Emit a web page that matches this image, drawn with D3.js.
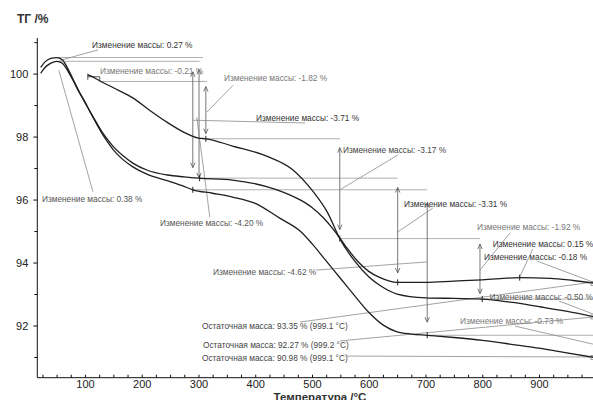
<!DOCTYPE html>
<html><head><meta charset="utf-8">
<script src="https://cdn.jsdelivr.net/npm/d3@7"></script>
<style>
html,body{margin:0;padding:0;background:#fff;}
svg{display:block;font-family:"Liberation Sans",Arial,sans-serif;}
</style></head><body>
<svg id="chart" width="593" height="400"></svg>
<script>
// --- TG curves: temperature (°C) and mass (%) ---
const tempA = [105, 110, 125, 150, 185, 215, 245, 273, 300, 313, 360, 420, 466, 500, 527, 549, 575, 600, 620, 650, 700, 750, 800, 850, 900, 950, 999];
const massA = [99.96, 99.93, 99.78, 99.55, 99.22, 98.82, 98.45, 98.15, 97.95, 97.93, 97.7, 97.38, 96.95, 96.3, 95.6, 94.76, 94.05, 93.55, 93.27, 93.0, 92.88, 92.86, 92.84, 92.74, 92.6, 92.45, 92.27];

const tempB = [22, 30, 40, 50, 60, 70, 80, 90, 100, 110, 120, 130, 140, 150, 165, 185, 210, 245, 275, 300, 360, 420, 450, 480, 500, 520, 540, 560, 580, 600, 620, 650, 700, 750, 800, 866, 920, 960, 999];
const massB = [100.01, 100.2, 100.33, 100.39, 100.33, 100.08, 99.75, 99.4, 99.08, 98.76, 98.45, 98.15, 97.9, 97.68, 97.42, 97.15, 96.93, 96.78, 96.72, 96.68, 96.62, 96.41, 96.23, 95.98, 95.75, 95.42, 95.0, 94.5, 94.05, 93.72, 93.52, 93.37, 93.37, 93.41, 93.45, 93.52, 93.5, 93.43, 93.34];

const tempC = [22, 30, 40, 50, 60, 70, 80, 90, 100, 110, 120, 130, 140, 150, 165, 185, 210, 245, 270, 290, 325, 360, 400, 443, 479, 500, 525, 550, 575, 600, 625, 650, 675, 703, 750, 800, 861, 900, 949, 999];
const massC = [100.2, 100.38, 100.48, 100.51, 100.44, 100.15, 99.78, 99.42, 99.1, 98.75, 98.42, 98.1, 97.82, 97.58, 97.3, 97.03, 96.8, 96.6, 96.45, 96.31, 96.2, 96.08, 95.88, 95.41, 95.0, 94.6, 94.05, 93.5, 92.95, 92.42, 92.02, 91.8, 91.73, 91.69, 91.62, 91.53, 91.38, 91.28, 91.13, 90.98];

// evaluation points marked on the curves
const markTemp = [313, 549, 800, 302, 651, 866, 290, 703];
const markMass = [97.93, 94.76, 92.84, 96.68, 93.37, 93.52, 96.31, 91.69];

// mass-change steps drawn as double arrows
const stepTemp   = [313, 290, 301, 549, 651, 703, 796];
const stepFrom   = [99.75, 100.39, 100.51, 97.93, 96.68, 96.31, 94.76];
const stepChange = [-1.82, -3.71, -4.20, -3.17, -3.31, -4.62, -1.92];

// mass changes shown only as labels
const smallChange = [0.27, -0.21, 0.38, 0.15, -0.18, -0.50, -0.73];

// residual masses at the end of the runs
const residMass = [93.35, 92.27, 90.98];
const residTemp = [999.1, 999.2, 999.1];

// reference levels (mass %) and their temperature span
const levelMass  = [100.51, 100.39, 99.75, 97.93, 96.68, 96.31, 94.76, 91.69, 92.84];
const levelStart = [51, 51, 126, 313, 302, 290, 549, 703, 796];
const levelEnd   = [308, 302, 315, 549, 651, 703, 796, 1000, 1000];

// axis ticks
const yMajor = [92, 94, 96, 98, 100];
const yMinor = [91, 93, 95, 97, 99, 101];
const xMajor = [100, 200, 300, 400, 500, 600, 700, 800, 900];
const xMinor = d3.range(25, 1001, 25);

const svg = d3.select("#chart");
const x = d3.scaleLinear().domain([16, 1000]).range([37.3, 595.75]);
const y = d3.scaleLinear().domain([90.343, 101.13]).range([377.7, 38]);

const fmt = v => (v < 0 ? "-" : "") + Math.abs(v).toFixed(2);
const chgText = v => "Изменение массы: " + fmt(v) + " %";

// ---- axes ----
const gy = svg.append("g").attr("transform", `translate(${x(16)},0)`);
gy.call(d3.axisLeft(y).tickValues(yMajor).tickSize(4).tickSizeOuter(0).tickPadding(5).tickFormat(d3.format("d")));
gy.append("g").call(d3.axisLeft(y).tickValues(yMinor).tickSize(3).tickSizeOuter(0).tickFormat(""))
  .select(".domain").remove();
gy.select(".domain").attr("d", `M0,${y(101.13)}V${y(90.343)}`);

const gx = svg.append("g").attr("transform", `translate(0,${y(90.343)})`);
gx.call(d3.axisBottom(x).tickValues(xMajor).tickSize(0).tickSizeOuter(0).tickPadding(2));
gx.append("g").call(d3.axisTop(x).tickValues(xMinor).tickSize(3).tickSizeOuter(0).tickFormat(""))
  .select(".domain").remove();
gx.select(".domain").attr("d", `M${x(16)},0H593`);

svg.selectAll(".tick text").attr("font-size", 11).attr("fill", "#222")
  .attr("font-family", "'Liberation Sans', Arial, sans-serif");
svg.selectAll(".domain, .tick line").attr("stroke", "#111").attr("stroke-width", 1);

svg.append("text").attr("x", 17).attr("y", 23).attr("font-size", 12).attr("font-weight", "bold")
  .attr("fill", "#333").text("ТГ /%");
svg.append("text").attr("x", 320).attr("y", 400.5).attr("text-anchor", "middle").attr("font-size", 11.5)
  .attr("font-weight", "bold").attr("fill", "#333").text("Температура /°C");

// ---- reference levels ----
const gLev = svg.append("g").attr("stroke", "#9a9a9a").attr("stroke-width", 0.8);
levelMass.forEach((m, i) => {
  gLev.append("line").attr("x1", x(levelStart[i])).attr("x2", x(levelEnd[i]))
    .attr("y1", y(m)).attr("y2", y(m));
});

// ---- step arrows ----
const gArr = svg.append("g").attr("stroke", "#555").attr("stroke-width", 0.8).attr("fill", "none");
stepTemp.forEach((t, i) => {
  const y1 = y(stepFrom[i]), y2 = y(stepFrom[i] + stepChange[i]);
  const top = Math.min(y1, y2), bot = Math.max(y1, y2), inset = (bot - top) * 0.09;
  const xt = x(t), a = top + inset, b = bot - inset;
  gArr.append("line").attr("x1", xt).attr("x2", xt).attr("y1", a).attr("y2", b);
  gArr.append("path").attr("d", `M${xt - 2.2},${a + 5}L${xt},${a}L${xt + 2.2},${a + 5}`);
  gArr.append("path").attr("d", `M${xt - 2.2},${b - 5}L${xt},${b}L${xt + 2.2},${b - 5}`);
});

// ---- leader lines (data space) ----
const leaders = [
  [[123, 100.75], [56, 100.42]],
  [[54, 100.1], [114, 96.25]],
  [[361, 99.63], [315, 98.78]],
  [[290, 98.52], [488, 98.43]],
  [[651, 97.41], [551, 96.33]],
  [[297, 98.62], [320, 95.44]],
  [[713, 95.73], [651, 94.97]],
  [[849, 94.94], [796, 93.76]],
  [[889, 94.43], [866, 93.54]],
  [[896, 94.05], [995, 93.38]],
  [[507, 93.76], [703, 94.02]],
  [[935, 92.78], [995, 92.37]],
  [[858, 91.98], [995, 91.41]],
  [[479, 92.11], [995, 93.38]],
  [[549, 91.51], [995, 92.27]],
  [[562, 91.03], [995, 91.0]]
];
const gLead = svg.append("g").attr("stroke", "#8a8a8a").attr("stroke-width", 0.8);
leaders.forEach(p => {
  gLead.append("line").attr("x1", x(p[0][0])).attr("y1", y(p[0][1]))
    .attr("x2", x(p[1][0])).attr("y2", y(p[1][1]));
});
// start bracket of the pre-dried run
svg.append("path").attr("fill", "none").attr("stroke", "#444").attr("stroke-width", 0.9)
  .attr("d", `M${x(105)},${y(100.0)}V${y(99.8)}M${x(105)},${y(99.9)}H${x(126)}V${y(99.75)}`);

// ---- curves ----
const line = d3.line().x(d => x(d[0])).y(d => y(d[1])).curve(d3.curveMonotoneX);
[[tempA, massA], [tempB, massB], [tempC, massC]].forEach(([t, m]) => {
  svg.append("path").datum(d3.zip(t, m)).attr("d", line)
    .attr("fill", "none").attr("stroke", "#1e1e1e").attr("stroke-width", 1.3);
});
// curve end boxes
[massA[massA.length - 1], massB[massB.length - 1], massC[massC.length - 1]].forEach(m => {
  svg.append("rect").attr("x", x(995) - 2).attr("y", y(m) - 2).attr("width", 4).attr("height", 4)
    .attr("fill", "none").attr("stroke", "#777").attr("stroke-width", 0.7);
});
// markers
markTemp.forEach((t, i) => {
  svg.append("line").attr("x1", x(t)).attr("x2", x(t)).attr("y1", y(markMass[i]) - 3).attr("y2", y(markMass[i]) + 3)
    .attr("stroke", "#222").attr("stroke-width", 1);
});

// ---- labels ----
const labels = [
  [chgText(smallChange[0]), 112.5, 100.81, "#333"],
  [chgText(smallChange[1]), 126.4, 99.98, "#777"],
  [chgText(stepChange[0]), 344.9, 99.76, "#777"],
  [chgText(stepChange[1]), 401.3, 98.49, "#333"],
  [chgText(stepChange[3]), 554.6, 97.48, "#444"],
  [chgText(smallChange[2]), 24.2, 95.92, "#555"],
  [chgText(stepChange[2]), 232.2, 95.16, "#555"],
  [chgText(stepChange[4]), 662.1, 95.76, "#333"],
  [chgText(stepChange[6]), 790.8, 95.03, "#777"],
  [chgText(smallChange[3]), 818.5, 94.49, "#333"],
  [chgText(smallChange[4]), 803.0, 94.08, "#333"],
  [chgText(stepChange[5]), 325.6, 93.60, "#555"],
  [chgText(smallChange[5]), 813.0, 92.81, "#555"],
  [chgText(smallChange[6]), 760.8, 92.05, "#777"]
];
residMass.forEach((m, i) => {
  labels.push(["Остаточная масса: " + m.toFixed(2) + " % (" + residTemp[i].toFixed(1) + " °C)",
    [306.2, 307.9, 306.2][i], [91.89, 91.29, 90.87][i], "#444"]);
});
labels.forEach(([txt, t, m, c]) => {
  svg.append("text").attr("x", x(t)).attr("y", y(m)).attr("font-size", 8.3).attr("fill", c).text(txt);
});
</script>
</body></html>
